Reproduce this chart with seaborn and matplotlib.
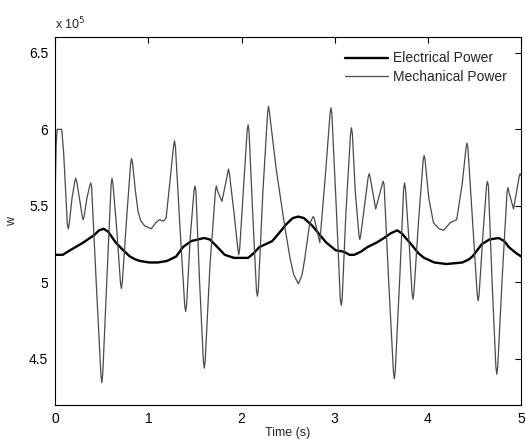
import matplotlib
matplotlib.use("Agg")
import matplotlib.pyplot as plt
import numpy as np
import pandas as pd
import seaborn as sns

# Data (power in units of 1e5 W)
mech_t = [0.00, 0.01, 0.02, 0.07, 0.09, 0.12, 0.13, 0.14, 0.15, 0.18, 0.21, 0.22, 0.23, 0.26,
          0.29, 0.30, 0.31, 0.34, 0.37, 0.38, 0.39, 0.44, 0.49, 0.50, 0.51, 0.56, 0.60, 0.61,
          0.62, 0.66, 0.70, 0.71, 0.72, 0.77, 0.81, 0.82, 0.83, 0.86, 0.89, 0.92, 0.96, 1.03,
          1.08, 1.12, 1.16, 1.19, 1.23, 1.27, 1.28, 1.29, 1.34, 1.39, 1.40, 1.41, 1.45, 1.49,
          1.50, 1.51, 1.55, 1.59, 1.60, 1.61, 1.66, 1.72, 1.73, 1.74, 1.79, 1.85, 1.86, 1.87,
          1.92, 1.96, 1.97, 1.98, 2.02, 2.06, 2.07, 2.08, 2.12, 2.16, 2.17, 2.18, 2.23, 2.28,
          2.29, 2.30, 2.37, 2.46, 2.52, 2.56, 2.61, 2.65, 2.68, 2.73, 2.76, 2.77, 2.78, 2.84,
          2.90, 2.95, 2.96, 2.97, 3.02, 3.06, 3.07, 3.08, 3.12, 3.17, 3.18, 3.19, 3.22, 3.26,
          3.27, 3.28, 3.32, 3.36, 3.37, 3.38, 3.44, 3.51, 3.52, 3.53, 3.58, 3.63, 3.64, 3.65,
          3.70, 3.74, 3.75, 3.76, 3.80, 3.83, 3.84, 3.85, 3.90, 3.95, 3.96, 3.97, 4.01, 4.06,
          4.12, 4.17, 4.24, 4.31, 4.37, 4.41, 4.42, 4.43, 4.48, 4.53, 4.54, 4.55, 4.59, 4.63,
          4.64, 4.65, 4.69, 4.73, 4.74, 4.75, 4.80, 4.85, 4.86, 4.87, 4.92, 4.98, 4.99, 5.00]
mech_p = [5.60, 5.90, 6.00, 6.00, 5.85, 5.50, 5.38, 5.35, 5.38, 5.55, 5.66, 5.68, 5.66, 5.55,
          5.43, 5.41, 5.43, 5.55, 5.63, 5.65, 5.63, 5.00, 4.40, 4.345, 4.40, 5.10, 5.64, 5.68,
          5.64, 5.35, 5.00, 4.96, 5.00, 5.45, 5.78, 5.81, 5.78, 5.60, 5.46, 5.40, 5.37, 5.35,
          5.39, 5.41, 5.40, 5.42, 5.65, 5.89, 5.925, 5.89, 5.35, 4.85, 4.81, 4.85, 5.30, 5.60,
          5.63, 5.60, 5.00, 4.49, 4.44, 4.49, 5.10, 5.60, 5.63, 5.60, 5.53, 5.71, 5.74, 5.71,
          5.45, 5.22, 5.18, 5.22, 5.60, 5.99, 6.03, 5.99, 5.45, 4.95, 4.91, 4.95, 5.60, 6.11,
          6.15, 6.11, 5.75, 5.38, 5.16, 5.05, 4.99, 5.05, 5.16, 5.38, 5.42, 5.43, 5.42, 5.26,
          5.70, 6.10, 6.14, 6.10, 5.45, 4.89, 4.85, 4.89, 5.45, 5.97, 6.01, 5.97, 5.60, 5.31,
          5.28, 5.31, 5.50, 5.69, 5.71, 5.69, 5.48, 5.64, 5.66, 5.64, 5.00, 4.42, 4.37, 4.42,
          5.05, 5.61, 5.65, 5.61, 5.25, 4.93, 4.89, 4.93, 5.40, 5.80, 5.83, 5.80, 5.55, 5.39,
          5.35, 5.34, 5.39, 5.41, 5.65, 5.88, 5.91, 5.88, 5.40, 4.92, 4.88, 4.92, 5.30, 5.63,
          5.66, 5.63, 5.00, 4.45, 4.40, 4.45, 5.05, 5.59, 5.62, 5.59, 5.48, 5.69, 5.71, 5.70]

elec_t = [0.00, 0.08, 0.16, 0.30, 0.42, 0.47, 0.52, 0.57, 0.65, 0.73, 0.80, 0.86, 0.91, 1.01,
          1.10, 1.20, 1.30, 1.37, 1.46, 1.53, 1.60, 1.66, 1.71, 1.82, 1.92, 2.07, 2.13, 2.19,
          2.33, 2.40, 2.48, 2.55, 2.61, 2.67, 2.76, 2.84, 2.91, 3.01, 3.10, 3.16, 3.21, 3.28,
          3.35, 3.45, 3.53, 3.60, 3.67, 3.72, 3.82, 3.90, 3.96, 4.07, 4.20, 4.37, 4.44, 4.48,
          4.58, 4.66, 4.76, 4.82, 4.87, 4.95, 5.00]
elec_p = [5.18, 5.18, 5.21, 5.26, 5.31, 5.34, 5.35, 5.33, 5.26, 5.21, 5.17, 5.15, 5.14, 5.13,
          5.13, 5.14, 5.17, 5.23, 5.27, 5.28, 5.29, 5.28, 5.25, 5.18, 5.16, 5.16, 5.19, 5.23,
          5.27, 5.32, 5.38, 5.42, 5.43, 5.42, 5.37, 5.31, 5.26, 5.21, 5.20, 5.18, 5.18, 5.20,
          5.23, 5.26, 5.29, 5.32, 5.34, 5.32, 5.25, 5.19, 5.16, 5.13, 5.12, 5.13, 5.15, 5.17,
          5.25, 5.28, 5.29, 5.27, 5.23, 5.19, 5.17]

x_ticks = [0, 1, 2, 3, 4, 5]
y_ticks = [4.5, 5, 5.5, 6, 6.5]
y_tick_labels = ['4.5', '5', '5.5', '6', '6.5']

sns.set_style("white")
plt.rcParams['font.family'] = ['Liberation Sans', 'DejaVu Sans']

fig = plt.figure(figsize=(5.26, 4.41), dpi=100)
ax = fig.add_axes([0.105, 0.082, 0.8855, 0.833])

sns.lineplot(x=elec_t, y=elec_p, ax=ax, color='black', linewidth=1.7, label='Electrical Power')
sns.lineplot(x=mech_t, y=mech_p, ax=ax, color='#4a4a4a', linewidth=0.9, label='Mechanical Power')

ax.set_xlim(0, 5)
ax.set_ylim(4.2, 6.6)
ax.set_xticks(x_ticks)
ax.set_yticks(y_ticks)
ax.set_yticklabels(y_tick_labels)
ax.tick_params(axis='both', which='both', direction='in', length=4, width=0.8,
               top=True, right=True, labelsize=10, colors='black', pad=5)
for s in ax.spines.values():
    s.set_visible(True)
    s.set_color('black')
    s.set_linewidth(0.8)

ax.set_xlabel('Time (s)', fontsize=9, labelpad=1)
ax.set_ylabel('w', fontsize=9, labelpad=8)
ax.text(0.0, 1.015, r'x 10$^5$', transform=ax.transAxes, fontsize=9, ha='left', va='bottom')

ax.legend(loc='upper right', frameon=False, fontsize=10, handlelength=3.1,
          handletextpad=0.4, labelspacing=0.35, borderaxespad=0.6)

fig.savefig('out.png', dpi=100)
